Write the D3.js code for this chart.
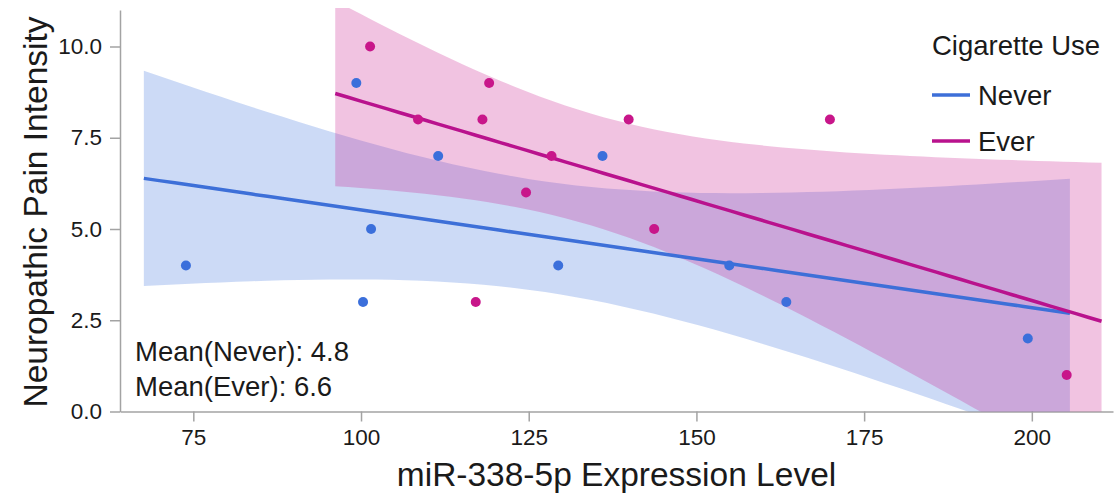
<!DOCTYPE html>
<html>
<head>
<meta charset="utf-8">
<script src="https://cdnjs.cloudflare.com/ajax/libs/d3/7.8.5/d3.min.js"></script>
<style>
  body { margin: 0; background: #fff; }
  text { font-family: "Liberation Sans", Arial, Helvetica, sans-serif; fill: #1a1a1a; }
  .axis path, .axis line { stroke: #a3a3a3; stroke-width: 1.5; }
</style>
</head>
<body>
<script>
 ///////////////////////////////////////////////////////
 // data

 var groups = ["Never", "Ever"];
 var neverX = [73.9, 99.3, 100.3, 101.5, 111.5, 129.4, 136.0, 154.9, 163.4, 199.4];
 var neverY = [4, 9, 3, 5, 7, 4, 7, 4, 3, 2];
 var everX = [101.35, 108.5, 117.1, 118.1, 119.1, 124.6, 128.4, 139.9, 143.7, 169.9, 205.2];
 var everY = [10, 8, 3, 8, 9, 6, 7, 8, 5, 8, 1];
 var xTicks = [75, 100, 125, 150, 175, 200];
 var yTicks = [0, 2.5, 5, 7.5, 10];
 var tCrit = { 8: 2.306, 9: 2.262 }; // 95% two-sided t quantiles by df

 ///////////////////////////////////////////////////////
 // margins

 var w = 1115;
 var h = 493;
 var svg = d3.select("body").append("svg")
   .attr("width", w)
   .attr("height", h),
   margin = { top: 10, bottom: 81.5, left: 120, right: 2 },
   width = w - margin.left - margin.right,
   height = h - margin.top - margin.bottom;

 ///////////////////////////////////////////////////////
 // scales

 var x = d3.scaleLinear().domain([64.07, 212.1]).range([0, width]);
 var y = d3.scaleLinear().domain([0, 11]).range([height, 0]);
 var colors = { Never: "#3b6fdb", Ever: "#c8168a" };
 var lineColors = { Never: "#3d6fd8", Ever: "#b9128d" };

 var chart = svg.append("g")
   .attr("transform", "translate(" + margin.left + "," + margin.top + ")");

 chart.append("clipPath").attr("id", "plotClip")
   .append("rect").attr("x", 0).attr("y", -2).attr("width", width).attr("height", height + 2);

 ///////////////////////////////////////////////////////
 // regression + 95% confidence band

 function fit(xs, ys) {
   var n = xs.length,
     mx = d3.mean(xs), my = d3.mean(ys),
     sxx = d3.sum(xs, function(d) { return (d - mx) * (d - mx); }),
     sxy = d3.sum(xs, function(d, i) { return (d - mx) * (ys[i] - my); }),
     b = sxy / sxx, a = my - b * mx,
     sse = d3.sum(xs, function(d, i) { var r = ys[i] - (a + b * d); return r * r; }),
     s = Math.sqrt(sse / (n - 2)),
     t = tCrit[n - 2],
     lo = d3.min(xs), hi = d3.max(xs), pad = (hi - lo) * 0.05;
   var pts = d3.range(0, 61).map(function(k) {
     var xv = lo - pad + (hi - lo + 2 * pad) * k / 60,
       yv = a + b * xv,
       se = s * Math.sqrt(1 / n + (xv - mx) * (xv - mx) / sxx);
     return { x: xv, y: yv, lo: yv - t * se, hi: yv + t * se };
   });
   return pts;
 }

 var series = [
   { key: "Never", xs: neverX, ys: neverY },
   { key: "Ever", xs: everX, ys: everY }
 ];
 series.forEach(function(s) { s.fit = fit(s.xs, s.ys); });

 var area = d3.area()
   .x(function(d) { return x(d.x); })
   .y0(function(d) { return y(d.lo); })
   .y1(function(d) { return y(d.hi); });
 var line = d3.line()
   .x(function(d) { return x(d.x); })
   .y(function(d) { return y(d.y); });

 ///////////////////////////////////////////////////////
 // axes

 chart.append("g")
   .classed("axis x", true)
   .attr("transform", "translate(0," + height + ")")
   .call(d3.axisBottom(x).tickValues(xTicks).tickSize(10).tickSizeOuter(0).tickPadding(8))
   .selectAll("text").style("font-size", "22.5px").attr("fill", "#1a1a1a");

 chart.append("g")
   .classed("axis y", true)
   .call(d3.axisLeft(y).tickValues(yTicks).tickSize(10).tickSizeOuter(0).tickPadding(8)
     .tickFormat(function(d) { return d.toFixed(1); }))
   .selectAll("text").style("font-size", "22.5px").attr("fill", "#1a1a1a");

 chart.selectAll(".axis .domain").attr("stroke", "#a3a3a3");

 ///////////////////////////////////////////////////////
 // plot

 var plotArea = chart.append("g").attr("clip-path", "url(#plotClip)");

 plotArea.selectAll(".band")
   .data(series)
   .enter().append("path")
   .classed("band", true)
   .attr("d", function(d) { return area(d.fit); })
   .attr("fill", function(d) { return colors[d.key]; })
   .attr("fill-opacity", 0.26);

 plotArea.selectAll(".fit")
   .data(series)
   .enter().append("path")
   .classed("fit", true)
   .attr("d", function(d) { return line(d.fit); })
   .attr("fill", "none")
   .attr("stroke", function(d) { return lineColors[d.key]; })
   .attr("stroke-width", 3.5);

 series.forEach(function(s) {
   plotArea.append("g").selectAll("circle")
     .data(s.xs.map(function(d, i) { return { x: d, y: s.ys[i] }; }))
     .enter().append("circle")
     .attr("cx", function(d) { return x(d.x); })
     .attr("cy", function(d) { return y(d.y); })
     .attr("r", 5)
     .attr("fill", colors[s.key]);
 });

 ///////////////////////////////////////////////////////
 // titles, legend, means

 svg.append("text")
   .attr("x", margin.left + width / 2)
   .attr("y", 486)
   .attr("text-anchor", "middle")
   .style("font-size", "33.5px")
   .text("miR-338-5p Expression Level");

 svg.append("text")
   .attr("transform", "translate(47," + 212 + ") rotate(-90)")
   .attr("text-anchor", "middle")
   .style("font-size", "33.5px")
   .text("Neuropathic Pain Intensity");

 var legend = svg.append("g").attr("transform", "translate(932,0)");
 legend.append("text").attr("x", 0).attr("y", 55).style("font-size", "27.5px").text("Cigarette Use");
 legend.selectAll(".item")
   .data(groups)
   .enter().append("g")
   .attr("transform", function(d, i) { return "translate(0," + (95 + i * 46) + ")"; })
   .each(function(d) {
     d3.select(this).append("line")
       .attr("x1", 0).attr("x2", 38)
       .attr("stroke", lineColors[d]).attr("stroke-width", 3.5);
     d3.select(this).append("text")
       .attr("x", 46).attr("dy", "0.36em")
       .style("font-size", "27.5px").text(d);
   });

 var means = [
   "Mean(Never): " + d3.mean(neverY).toFixed(1),
   "Mean(Ever): " + d3.mean(everY).toFixed(1)
 ];
 svg.selectAll(".mean")
   .data(means)
   .enter().append("text")
   .classed("mean", true)
   .attr("x", 135)
   .attr("y", function(d, i) { return 361 + i * 35; })
   .style("font-size", "27.5px")
   .text(function(d) { return d; });
</script>
</body>
</html>
